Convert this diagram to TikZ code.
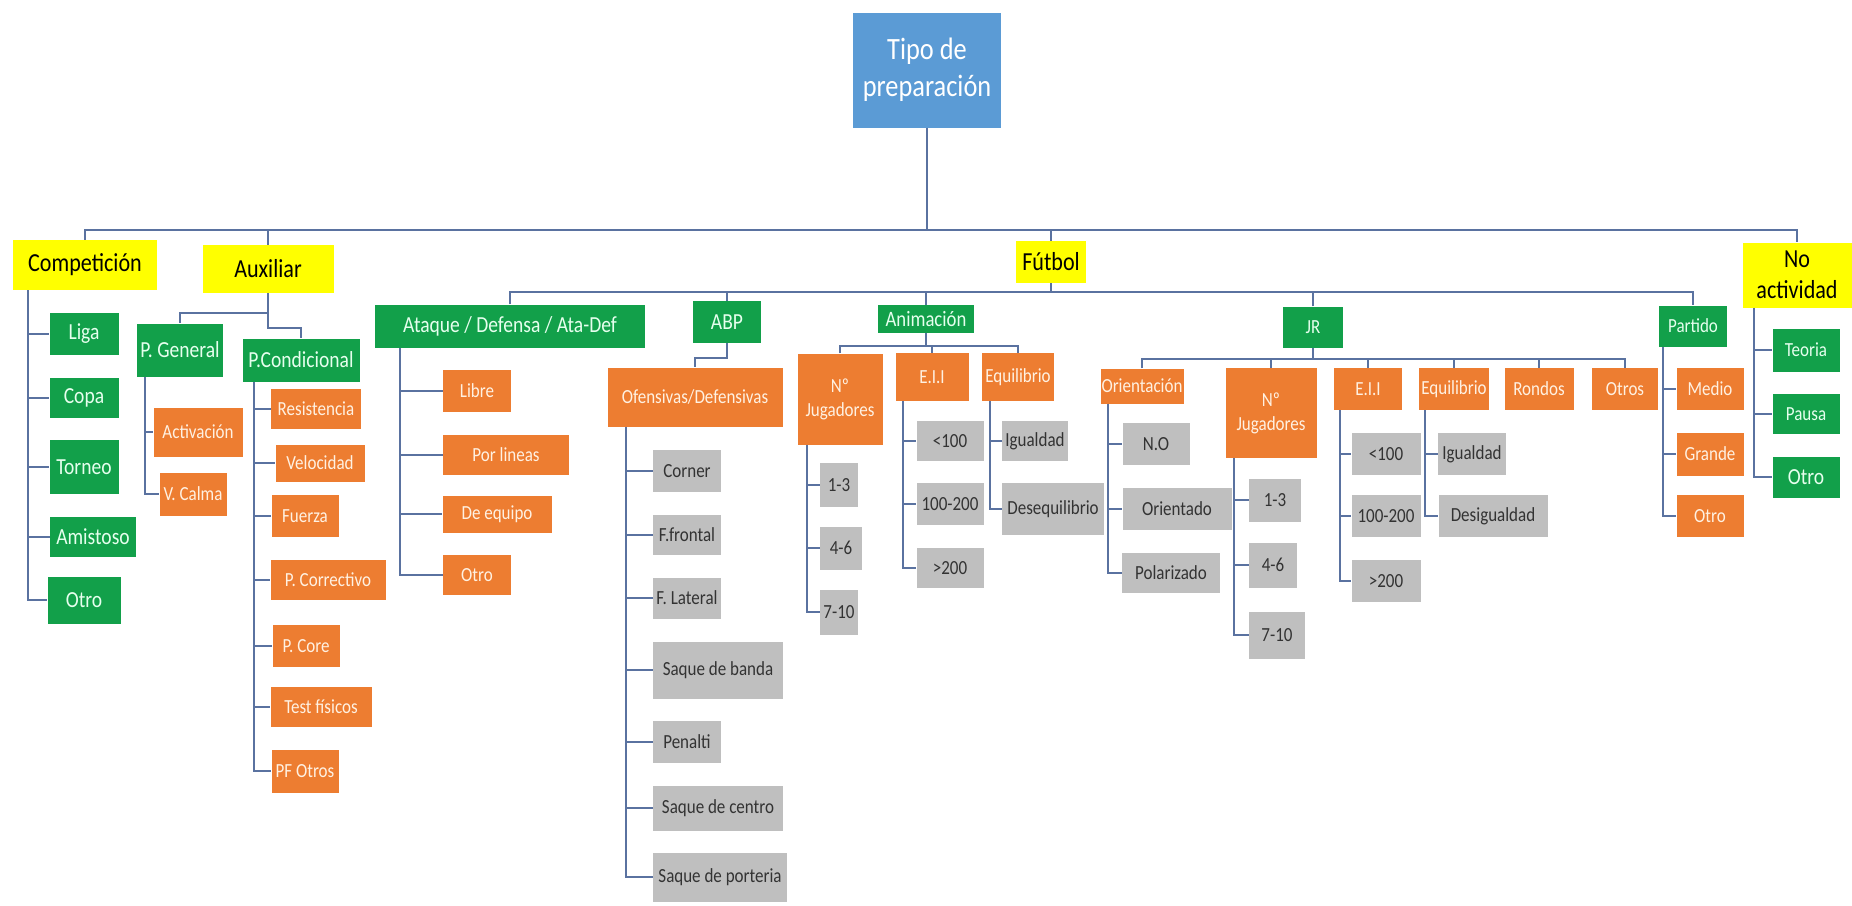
\documentclass[tikz,border=0pt]{standalone}
\usepackage{fontspec}
\setmainfont{Carlito}[FakeStretch=0.85]
\usetikzlibrary{positioning,calc}
\definecolor{RootBlue}{HTML}{5B9BD5}
\definecolor{CatYellow}{HTML}{FFFF00}
\definecolor{LeafGreen}{HTML}{12A04A}
\definecolor{GreenText}{HTML}{E6FFEE}
\definecolor{Orange}{HTML}{ED7D31}
\definecolor{OrangeText}{HTML}{FFF1E2}
\definecolor{Grey}{HTML}{BFBFBF}
\definecolor{GreyText}{HTML}{333333}
\definecolor{Line}{HTML}{5A72A0}
\begin{document}
\begin{tikzpicture}[x=1pt,y=-1pt,
  root/.style={fill=RootBlue,text=white,font=\fontsize{31}{37}\selectfont,align=center,inner sep=0pt},
  cat/.style={fill=CatYellow,text=black,font=\fontsize{26}{31}\selectfont,align=center,inner sep=0pt},
  grn/.style={fill=LeafGreen,text=GreenText,font=\fontsize{23}{27}\selectfont,align=center,inner sep=0pt},
  grns/.style={grn,font=\fontsize{20}{24}\selectfont},
  org/.style={fill=Orange,text=OrangeText,font=\fontsize{20}{24}\selectfont,align=center,inner sep=0pt},
  gry/.style={fill=Grey,text=GreyText,font=\fontsize{20}{24}\selectfont,align=center,inner sep=0pt},
  wh/.style 2 args={minimum width=#1pt,minimum height=#2pt},
  link/.style={draw=Line,line width=2pt}
]
\fill[white] (0,0) rectangle (1852,905);
\useasboundingbox (0,0) rectangle (1852,905);

\coordinate (topbus) at (0,230);
\coordinate (futbus) at (0,292);
\coordinate (animbus) at (0,346);
\coordinate (jrbus) at (0,359);
\coordinate (auxA) at (0,313);
\coordinate (auxB) at (0,328);
\coordinate (abpbus) at (0,358);
\coordinate (cst) at (28,0);
\coordinate (gst) at (145,0);
\coordinate (pst) at (254,0);
\coordinate (ast) at (400,0);
\coordinate (ost) at (626,0);
\coordinate (nst) at (807,0);
\coordinate (est) at (903,0);
\coordinate (qst) at (990,0);
\coordinate (rst) at (1108,0);
\coordinate (mst) at (1234,0);
\coordinate (fst) at (1340,0);
\coordinate (ust) at (1425,0);
\coordinate (tst) at (1663,0);
\coordinate (yst) at (1754,0);

\node[root,wh={148}{115}] (root) at (927,70) {Tipo de\\preparación};

\node[cat,wh={144}{50}] (comp) at (85,265) {Competición};
\node[cat,wh={131}{48}] (aux) at (268,269) {Auxiliar};
\node[cat,wh={70}{42}] (fut) at (1051,262) {Fútbol};
\node[cat,wh={109}{65}] (noact) at (1797,275) {No\\actividad};

\node[grn,wh={69}{42}] (liga) at (84,334) {Liga};
\node[grn,wh={69}{40}] (copa) at (84,398) {Copa};
\node[grn,wh={69}{54}] (torneo) at (84,467) {Torneo};
\node[grn,wh={86}{40}] (amist) at (93,537) {Amistoso};
\node[grn,wh={73}{47}] (otroC) at (84,600) {Otro};

\node[grn,wh={86}{53}] (pgen) at (180,350) {P. General};
\node[grn,wh={117}{43}] (pcond) at (301,360) {P.Condicional};
\node[org,wh={89}{49}] (activ) at (198,432) {Activación};
\node[org,wh={67}{43}] (vcalma) at (193,494) {V. Calma};
\node[org,wh={90}{40}] (resis) at (316,409) {Resistencia};
\node[org,wh={89}{37}] (veloc) at (320,463) {Velocidad};
\node[org,wh={67}{42}] (fuerza) at (305,516) {Fuerza};
\node[org,wh={115}{40}] (pcorr) at (328,580) {P. Correctivo};
\node[org,wh={67}{42}] (pcore) at (306,646) {P. Core};
\node[org,wh={101}{40}] (test) at (321,707) {Test físicos};
\node[org,wh={67}{43}] (pfotros) at (305,771) {PF Otros};

\node[grn,wh={270}{43}] (ata) at (510,326) {Ataque / Defensa / Ata-Def};
\node[grn,wh={68}{42}] (abp) at (727,322) {ABP};
\node[grn,wh={96}{28},font=\fontsize{22}{26}\selectfont] (anim) at (926,319) {Animación};
\node[grns,wh={60}{41}] (jr) at (1313,327) {JR};
\node[grns,wh={68}{41}] (partido) at (1693,326) {Partido};

\node[org,wh={68}{42}] (libre) at (477,391) {Libre};
\node[org,wh={126}{40}] (porlin) at (506,455) {Por lineas};
\node[org,wh={109}{37}] (deeq) at (497,514) {De equipo};
\node[org,wh={68}{40}] (otroA) at (477,575) {Otro};

\node[org,wh={175}{59}] (ofdef) at (695,397) {Ofensivas/Defensivas};
\node[gry,wh={68}{42}] (corner) at (687,471) {Corner};
\node[gry,wh={68}{40}] (ffront) at (687,535) {F.frontal};
\node[gry,wh={68}{41}] (flat) at (687,598) {F. Lateral};
\node[gry,wh={130}{57}] (sbanda) at (718,670) {Saque de banda};
\node[gry,wh={68}{42}] (penal) at (687,742) {Penalti};
\node[gry,wh={130}{45}] (scentro) at (718,808) {Saque de centro};
\node[gry,wh={134}{49}] (sport) at (720,877) {Saque de porteria};

\node[org,wh={85}{91}] (njA) at (840,399) {Nº\\Jugadores};
\node[org,wh={73}{48}] (eiiA) at (932,377) {E.I.I};
\node[org,wh={72}{48}] (equA) at (1018,377) {Equilibrio};
\node[gry,wh={38}{44}] (a13) at (839,485) {1-3};
\node[gry,wh={42}{43}] (a46) at (841,548) {4-6};
\node[gry,wh={38}{45}] (a710) at (839,612) {7-10};
\node[gry,wh={67}{40}] (alt100) at (950,441) {<100};
\node[gry,wh={67}{42}] (a100) at (950,504) {100-200};
\node[gry,wh={67}{40}] (agt200) at (950,568) {>200};
\node[gry,wh={66}{40}] (aigu) at (1035,441) {Igualdad};
\node[gry,wh={102}{52}] (adeseq) at (1053,509) {Desequilibrio};

\node[org,wh={83}{35}] (ori) at (1142,386) {Orientación};
\node[org,wh={91}{90}] (njB) at (1271,413) {Nº\\Jugadores};
\node[org,wh={68}{42}] (eiiB) at (1368,389) {E.I.I};
\node[org,wh={70}{42}] (equB) at (1454,389) {Equilibrio};
\node[org,wh={69}{42}] (rondos) at (1539,389) {Rondos};
\node[org,wh={66}{42}] (otros) at (1625,389) {Otros};
\node[gry,wh={67}{42}] (no) at (1156,444) {N.O};
\node[gry,wh={109}{42}] (orient) at (1177,509) {Orientado};
\node[gry,wh={98}{40}] (polar) at (1171,573) {Polarizado};
\node[gry,wh={52}{43}] (b13) at (1275,500) {1-3};
\node[gry,wh={48}{45}] (b46) at (1273,565) {4-6};
\node[gry,wh={56}{47}] (b710) at (1277,635) {7-10};
\node[gry,wh={69}{42}] (blt100) at (1386,454) {<100};
\node[gry,wh={69}{42}] (b100) at (1386,516) {100-200};
\node[gry,wh={69}{42}] (bgt200) at (1386,581) {>200};
\node[gry,wh={68}{42}] (bigu) at (1472,454) {Igualdad};
\node[gry,wh={109}{42}] (bdesig) at (1493,516) {Desigualdad};

\node[org,wh={67}{42}] (medio) at (1710,389) {Medio};
\node[org,wh={67}{43}] (grande) at (1710,454) {Grande};
\node[org,wh={67}{42}] (otroP) at (1710,516) {Otro};

\node[grns,wh={67}{43}] (teoria) at (1806,350) {Teoria};
\node[grns,wh={67}{40}] (pausa) at (1806,414) {Pausa};
\node[grn,wh={67}{41}] (otroN) at (1806,477) {Otro};

\draw[link] (root.south) -- (root.south |- topbus);
\draw[link] (comp.north) |- (topbus -| noact.north) -- (noact.north);
\foreach \c in {aux,fut} \draw[link] (\c.north) -- (\c.north |- topbus);

\draw[link] (fut.south) -- (fut.south |- futbus);
\draw[link] (ata.north) |- (futbus -| partido.north) -- (partido.north);
\foreach \c in {abp,anim,jr} \draw[link] (\c.north) -- (\c.north |- futbus);

\draw[link] (aux.south) -- (aux.south |- auxA) -| (pgen.north);
\draw[link] (aux.south |- auxA) -- (aux.south |- auxB) -| (pcond.north);
\draw[link] (abp.south) -- (abp.south |- abpbus) -| (ofdef.north);

\draw[link] (anim.south) -- (anim.south |- animbus);
\draw[link] (njA.north) |- (animbus -| equA.north) -- (equA.north);
\draw[link] (eiiA.north) -- (eiiA.north |- animbus);

\draw[link] (jr.south) -- (jr.south |- jrbus);
\draw[link] (ori.north) |- (jrbus -| otros.north) -- (otros.north);
\foreach \c in {njB,eiiB,equB,rondos} \draw[link] (\c.north) -- (\c.north |- jrbus);

\draw[link] (comp.south -| cst) |- (otroC.west);
\foreach \c in {liga,copa,torneo,amist} \draw[link] (cst |- \c.west) -- (\c.west);
\draw[link] (pgen.south -| gst) |- (vcalma.west);
\draw[link] (gst |- activ.west) -- (activ.west);
\draw[link] (pcond.south -| pst) |- (pfotros.west);
\foreach \c in {resis,veloc,fuerza,pcorr,pcore,test} \draw[link] (pst |- \c.west) -- (\c.west);
\draw[link] (ata.south -| ast) |- (otroA.west);
\foreach \c in {libre,porlin,deeq} \draw[link] (ast |- \c.west) -- (\c.west);
\draw[link] (ofdef.south -| ost) |- (sport.west);
\foreach \c in {corner,ffront,flat,sbanda,penal,scentro} \draw[link] (ost |- \c.west) -- (\c.west);
\draw[link] (njA.south -| nst) |- (a710.west);
\foreach \c in {a13,a46} \draw[link] (nst |- \c.west) -- (\c.west);
\draw[link] (eiiA.south -| est) |- (agt200.west);
\foreach \c in {alt100,a100} \draw[link] (est |- \c.west) -- (\c.west);
\draw[link] (equA.south -| qst) |- (adeseq.west);
\draw[link] (qst |- aigu.west) -- (aigu.west);
\draw[link] (ori.south -| rst) |- (polar.west);
\foreach \c in {no,orient} \draw[link] (rst |- \c.west) -- (\c.west);
\draw[link] (njB.south -| mst) |- (b710.west);
\foreach \c in {b13,b46} \draw[link] (mst |- \c.west) -- (\c.west);
\draw[link] (eiiB.south -| fst) |- (bgt200.west);
\foreach \c in {blt100,b100} \draw[link] (fst |- \c.west) -- (\c.west);
\draw[link] (equB.south -| ust) |- (bdesig.west);
\draw[link] (ust |- bigu.west) -- (bigu.west);
\draw[link] (partido.south -| tst) |- (otroP.west);
\foreach \c in {medio,grande} \draw[link] (tst |- \c.west) -- (\c.west);
\draw[link] (noact.south -| yst) |- (otroN.west);
\foreach \c in {teoria,pausa} \draw[link] (yst |- \c.west) -- (\c.west);
\end{tikzpicture}
\end{document}
